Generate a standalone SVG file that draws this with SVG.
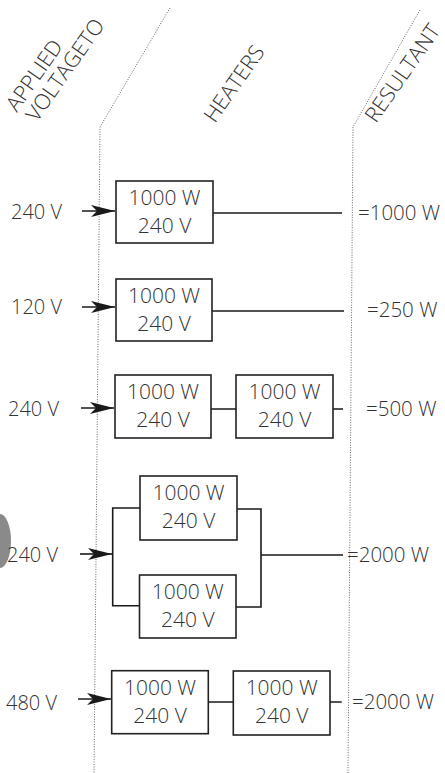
<svg xmlns="http://www.w3.org/2000/svg" width="445" height="773" viewBox="0 0 445 773">
<defs>
<style>
text { font-family: "Open Sans", "Liberation Sans", Arial, sans-serif; fill: #333; font-weight: 300; }
.hdr { font-size: 21.5px; }
.lbl { font-size: 20px; }
.res { font-size: 20.5px; }
.box rect { fill: #fff; stroke: #222; stroke-width: 1.6; }
.box text { font-size: 21px; text-anchor: middle; }
.wire { fill: none; stroke: #1a1a1a; stroke-width: 1.6; }
.arrow { fill: none; stroke: #1a1a1a; stroke-width: 1.6; marker-end: url(#ah); }
.guide { fill: none; stroke: #666; stroke-width: 1; stroke-dasharray: 1 1.5; }
</style>
<marker id="ah" markerUnits="userSpaceOnUse" markerWidth="26" markerHeight="14" refX="24" refY="7" orient="auto">
<path d="M0,1 L24,7 L0,13 L6,7 Z" fill="#1a1a1a"/>
</marker>
</defs>
<rect width="445" height="773" fill="#fff"/>
<ellipse cx="0" cy="541" rx="11" ry="27" fill="#8a8a8a"/>

<g id="guides">
<path class="guide" d="M170,8 L100,127 L94,773"/>
<path class="guide" d="M420,10 L353,127 L348,773"/>
</g>

<g id="headers">
<text class="hdr" transform="translate(17,113) rotate(-55)">APPLIED</text>
<text class="hdr" transform="translate(37,123) rotate(-55)">VOLTAGETO</text>
<text class="hdr" transform="translate(215,124) rotate(-55)">HEATERS</text>
<text class="hdr" transform="translate(376,124) rotate(-55)">RESULTANT</text>
</g>

<g id="connectors">
<line class="arrow" x1="82" y1="211" x2="115" y2="211"/>
<line class="arrow" x1="82" y1="307" x2="115" y2="307"/>
<line class="arrow" x1="81" y1="408" x2="114" y2="408"/>
<line class="arrow" x1="80" y1="554" x2="112" y2="554"/>
<line class="arrow" x1="78" y1="699" x2="111" y2="699"/>
<path class="wire" d="M213,213 H342"/>
<path class="wire" d="M212,311 H344"/>
<path class="wire" d="M211,409 H236 M333,409 H343"/>
<path class="wire" d="M140,508 H112.7 V605.7 H139.5 M237,509 H261 V607 H236 M261,555 H343"/>
<path class="wire" d="M208.3,702 H233.3 M330,702 H341.7"/>
</g>

<g id="inputs">
<text class="lbl" x="11" y="219">240 V</text>
<text class="lbl" x="11" y="314">120 V</text>
<text class="lbl" x="8" y="416">240 V</text>
<text class="lbl" x="7" y="562">240 V</text>
<text class="lbl" x="6" y="710">480 V</text>
</g>

<g id="heater-1" class="box"><rect x="116" y="181" width="97" height="62"/><text x="164.5" y="205">1000 W</text><text x="164.5" y="233">240 V</text></g>
<g id="heater-2" class="box"><rect x="116" y="279" width="96" height="62"/><text x="164" y="303">1000 W</text><text x="164" y="331">240 V</text></g>
<g id="heater-3a" class="box"><rect x="115" y="375" width="96" height="63"/><text x="163" y="399">1000 W</text><text x="163" y="427">240 V</text></g>
<g id="heater-3b" class="box"><rect x="236" y="375" width="97" height="63"/><text x="284.5" y="399">1000 W</text><text x="284.5" y="427">240 V</text></g>
<g id="heater-4a" class="box"><rect x="140" y="476" width="97" height="64"/><text x="188.5" y="500">1000 W</text><text x="188.5" y="528">240 V</text></g>
<g id="heater-4b" class="box"><rect x="139.5" y="575" width="96.5" height="63"/><text x="187.75" y="599">1000 W</text><text x="187.75" y="627">240 V</text></g>
<g id="heater-5a" class="box"><rect x="111.7" y="670.7" width="96.6" height="63"/><text x="160" y="695">1000 W</text><text x="160" y="723">240 V</text></g>
<g id="heater-5b" class="box"><rect x="233.3" y="671" width="96.7" height="64"/><text x="281.7" y="695">1000 W</text><text x="281.7" y="723">240 V</text></g>

<g id="results">
<text class="res" x="358" y="220">=1000 W</text>
<text class="res" x="367" y="317">=250 W</text>
<text class="res" x="366" y="416">=500 W</text>
<text class="res" x="347" y="562">=2000 W</text>
<text class="res" x="352" y="709">=2000 W</text>
</g>
</svg>
